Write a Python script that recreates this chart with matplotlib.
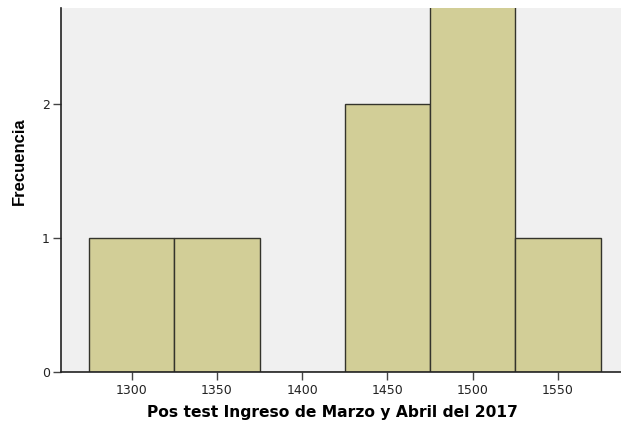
import matplotlib
matplotlib.use("Agg")
import matplotlib.pyplot as plt
from matplotlib import font_manager

bin_edges = [1275, 1325, 1375, 1425, 1475, 1525, 1575]
counts = [1, 1, 0, 2, 3, 1]
x_ticks = [1300, 1350, 1400, 1450, 1500, 1550]
y_ticks = [0, 1, 2]
x_label = "Pos test Ingreso de Marzo y Abril del 2017"
y_label = "Frecuencia"

W, H = 621, 421
fig = plt.figure(figsize=(W / 100, H / 100), dpi=100)
fig.patch.set_facecolor("white")
left, right, top, bottom = 61, 621, 8, 372
ax = fig.add_axes([left / W, (H - bottom) / H, (right - left) / W, (bottom - top) / H])
ax.set_facecolor("#F0F0F0")

widths = [bin_edges[i + 1] - bin_edges[i] for i in range(len(counts))]
ax.bar(bin_edges[:-1], counts, width=widths, align="edge",
       color="#D2CE97", edgecolor="#34342C", linewidth=1.0, zorder=2)

ax.set_xlim(1258.5, 1587)
ax.set_ylim(0, 2.72)
ax.set_xticks(x_ticks)
ax.set_yticks(y_ticks)

for s in ["top", "right"]:
    ax.spines[s].set_visible(False)
for s in ["left", "bottom"]:
    ax.spines[s].set_color("#222222")
    ax.spines[s].set_linewidth(1.2)

ax.tick_params(axis="both", direction="out", length=6, width=1.0, color="#444444",
               labelsize=9, labelcolor="#222222")
ax.tick_params(axis="x", pad=3)
ax.tick_params(axis="y", pad=2)
for lab in ax.get_xticklabels() + ax.get_yticklabels():
    lab.set_family(["DejaVu Sans"])

fig.text(332 / W, 1 - 412 / H, x_label, ha="center", va="center",
         fontsize=11.2, fontweight="bold", family=["DejaVu Sans"])

names = {f.name for f in font_manager.fontManager.ttflist}
yfam = ["Liberation Sans Narrow", "DejaVu Sans"] if "Liberation Sans Narrow" in names else ["Liberation Sans", "DejaVu Sans"]
fig.text(19 / W, 1 - 161 / H, y_label, ha="center", va="center", rotation=90,
         fontsize=12, fontweight="bold", family=yfam)

fig.savefig("out.png", dpi=100)
